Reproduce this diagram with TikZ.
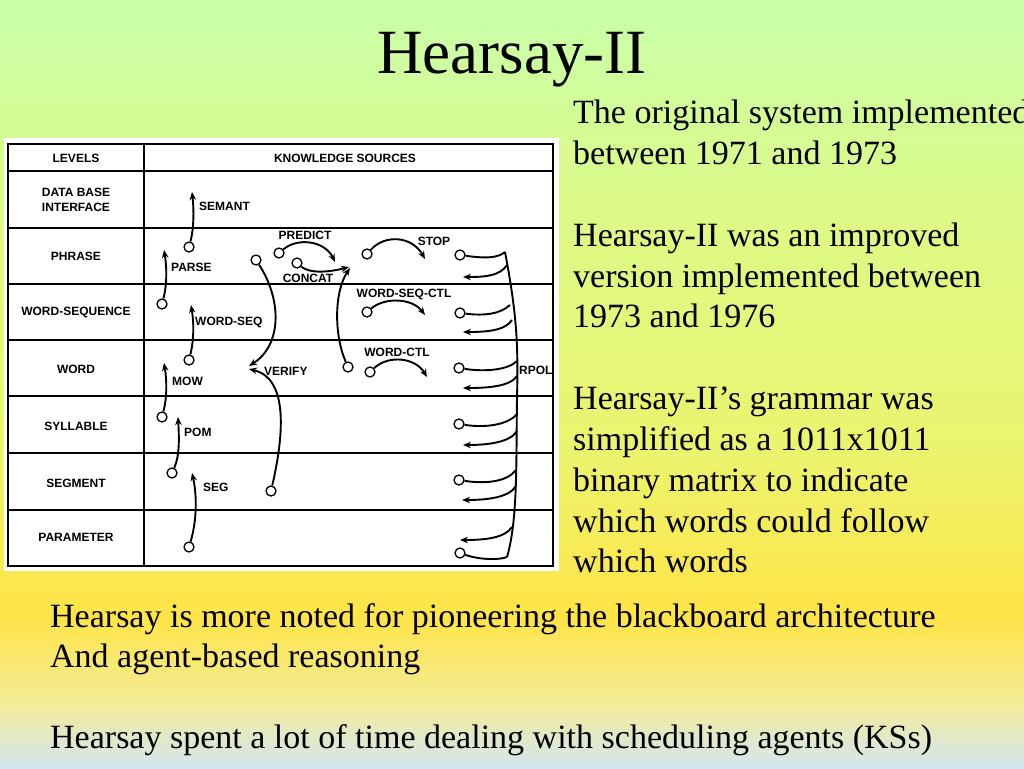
\documentclass[tikz,border=0pt]{standalone}
\usepackage{fontspec}
\setmainfont{Liberation Serif}
\newfontfamily\tabfont{Liberation Sans}
\usetikzlibrary{arrows.meta}
\definecolor{bgA}{HTML}{C8FFAA}
\definecolor{bgB}{HTML}{DCFA88}
\definecolor{bgC}{HTML}{EBF46E}
\definecolor{bgD}{HTML}{FFE446}
\definecolor{bgE}{HTML}{F2EC9A}
\definecolor{bgF}{HTML}{D2E6F2}
\newcommand\bgband[4]{%
  \foreach \yy in {#1,...,#2}{%
    \pgfmathtruncatemacro\pp{(\yy-#1)/(#2-#1)*100}%
    \fill[#4!\pp!#3] (0,\yy) rectangle (1024,\yy+1.6);}}
\tikzset{
  lvl/.style={font=\tabfont\bfseries\fontsize{12}{15}\selectfont, inner sep=0pt, align=center},
  kslab/.style={font=\tabfont\bfseries\fontsize{12}{15}\selectfont, inner sep=0pt},
  arr/.style={line width=1.9pt, -{Stealth[length=8pt,width=6.5pt]}},
  ln/.style={line width=1.9pt},
  cir/.style={circle, draw, fill=white, line width=1.3pt, minimum size=10pt, inner sep=0pt},
  grid/.style={line width=1.9pt},
  body/.style={font=\fontsize{34}{40}\selectfont, inner sep=0pt, anchor=base west},
}
\begin{document}
\begin{tikzpicture}[x=1pt,y=-1pt]
\useasboundingbox (0,0) rectangle (1024,768);
% background
\bgband{0}{200}{bgA}{bgB}
\bgband{200}{450}{bgB}{bgC}
\bgband{450}{615}{bgC}{bgD}
\bgband{615}{705}{bgD}{bgE}
\bgband{705}{768}{bgE}{bgF}
% title
\node[font=\fontsize{63}{70}\selectfont, inner sep=0pt, anchor=base] (title) at (512,74) {Hearsay-II};
% right text
\foreach \t/\yy [count=\i] in {The original system implemented/123, between 1971 and 1973/164,
  Hearsay-II was an improved/246, version implemented between/287, 1973 and 1976/327,
  Hearsay-II’s grammar was/409, simplified as a 1011x1011/450, binary matrix to indicate/491,
  which words could follow/532, which words/572}
  \node[body] (r\i) at (573,\yy) {\t};
% bottom text
\node[body] (b1) at (50,627) {Hearsay is more noted for pioneering the blackboard architecture};
\node[body] (b2) at (50,667) {And agent-based reasoning};
\node[body] (b3) at (50,748) {Hearsay spent a lot of time dealing with scheduling agents (KSs)};
% figure
\fill[white] (4,138) rectangle (559,571);
\draw[grid] (8,144) rectangle (553,566);
\draw[grid] (144,144) -- (144,566);
\foreach \yy in {171,228,284,340,396,453,510}
  \draw[grid] (8,\yy) -- (553,\yy);
\node[lvl] (lv0) at (76,158) {LEVELS};
\node[lvl] (lv1) at (76,199.5) {DATA BASE\\INTERFACE};
\node[lvl] (lv2) at (76,256) {PHRASE};
\node[lvl] (lv3) at (76,312) {WORD-SEQUENCE};
\node[lvl] (lv4) at (76,369) {WORD};
\node[lvl] (lv5) at (76,426) {SYLLABLE};
\node[lvl] (lv6) at (76,483) {SEGMENT};
\node[lvl] (lv7) at (76,537) {PARAMETER};
\node[lvl] (ks) at (345,158) {KNOWLEDGE SOURCES};
% vertical KS arrows
\node[cir] (cSem) at (189,247) {};
\coordinate (tSem) at (192,192);
\draw[arr] (cSem) .. controls (194,228) and (194,210) .. (tSem);
\node[kslab, anchor=west] (lSem) at (199,206) {SEMANT};
\node[cir] (cPar) at (162,304) {};
\coordinate (tPar) at (164,250);
\draw[arr] (cPar) .. controls (167,285) and (167,268) .. (tPar);
\node[kslab, anchor=west] (lPar) at (171,267) {PARSE};
\node[cir] (cWs) at (189,360) {};
\coordinate (tWs) at (191,305);
\draw[arr] (cWs) .. controls (194,340) and (194,323) .. (tWs);
\node[kslab, anchor=west] (lWs) at (195,322) {WORD-SEQ};
\node[cir] (cMow) at (162,417) {};
\coordinate (tMow) at (164,363);
\draw[arr] (cMow) .. controls (167,398) and (167,381) .. (tMow);
\node[kslab, anchor=west] (lMow) at (172,381) {MOW};
\node[cir] (cPom) at (172,473) {};
\coordinate (tPom) at (178,417);
\draw[arr] (cPom) .. controls (180,455) and (179,436) .. (tPom);
\node[kslab, anchor=west] (lPom) at (184,432) {POM};
\node[cir] (cSeg) at (189,547) {};
\coordinate (tSeg) at (192,473);
\draw[arr] (cSeg) .. controls (197,520) and (197,495) .. (tSeg);
\node[kslab, anchor=west] (lSeg) at (203,487) {SEG};
% VERIFY
\node[cir] (cV1) at (256,260) {};
\node[cir] (cV2) at (271,491) {};
\coordinate (tV1) at (249,366);
\coordinate (tV2) at (249,369);
\draw[arr] (cV1) .. controls (282,300) and (282,345) .. (tV1);
\draw[arr] (cV2) .. controls (285,430) and (287,378) .. (tV2);
\node[kslab, anchor=west] (lVer) at (264,371) {VERIFY};
% PREDICT / CONCAT
\node[cir] (cPre) at (279,253) {};
\coordinate (tPre) at (335,262);
\draw[arr] (cPre) .. controls (298,237) and (325,241) .. (tPre);
\node[kslab] (lPre) at (305,235) {PREDICT};
\node[cir] (cCon) at (297,263) {};
\coordinate (tCon) at (349,267);
\draw[arr] (cCon) .. controls (310,274) and (330,272) .. (tCon);
\node[cir] (cWc) at (348,367) {};
\coordinate (tWc) at (350,268);
\draw[arr] (cWc) .. controls (334,335) and (334,292) .. (tWc);
\node[kslab] (lCon) at (308,278) {CONCAT};
% STOP, WORD-SEQ-CTL, WORD-CTL
\node[cir] (cStop) at (367,254) {};
\coordinate (tStop) at (425,259);
\draw[arr] (cStop) .. controls (385,234) and (412,236) .. (tStop);
\node[kslab] (lStop) at (434,241) {STOP};
\node[cir] (cWsc) at (367,312) {};
\coordinate (tWsc) at (425,315);
\draw[arr] (cWsc) .. controls (385,297) and (412,298) .. (tWsc);
\node[kslab] (lWsc) at (404,294) {WORD-SEQ-CTL};
\node[cir] (cWct) at (370,372) {};
\coordinate (tWct) at (427,377);
\draw[arr] (cWct) .. controls (388,355) and (415,357) .. (tWct);
\node[kslab] (lWct) at (397,352) {WORD-CTL};
% RPOL spine
\coordinate (s0) at (505,252);
\coordinate (s1) at (517,400);
\coordinate (s2) at (507,557);
\draw[ln] (s0) .. controls (518,320) and (518,350) .. (s1) .. controls (516,460) and (518,520) .. (s2);
\node[kslab, anchor=west] (lRp) at (519,370) {RPOL};
% branches
\node[cir] (q1) at (460,255) {};
\coordinate (q1e) at (505,252);
\draw[ln] (q1) .. controls (482,258) and (497,259) .. (q1e);
\coordinate (a1s) at (507,265); \coordinate (a1t) at (463,277);
\draw[arr] (a1s) .. controls (500,276) and (485,277) .. (a1t);
\node[cir] (q2) at (460,313) {};
\coordinate (q2e) at (510,305);
\draw[ln] (q2) .. controls (485,316) and (500,314) .. (q2e);
\coordinate (a2s) at (512,320); \coordinate (a2t) at (463,332);
\draw[arr] (a2s) .. controls (505,331) and (485,332) .. (a2t);
\node[cir] (q3) at (459,368) {};
\coordinate (q3e) at (517,361);
\draw[ln] (q3) .. controls (485,372) and (508,370) .. (q3e);
\coordinate (a3s) at (517,376); \coordinate (a3t) at (463,388);
\draw[arr] (a3s) .. controls (510,387) and (485,388) .. (a3t);
\node[cir] (q4) at (459,424) {};
\coordinate (q4e) at (517,414);
\draw[ln] (q4) .. controls (485,428) and (508,425) .. (q4e);
\coordinate (a4s) at (517,431); \coordinate (a4t) at (463,445);
\draw[arr] (a4s) .. controls (510,443) and (485,445) .. (a4t);
\node[cir] (q5) at (459,480) {};
\coordinate (q5e) at (516,470);
\draw[ln] (q5) .. controls (485,484) and (507,482) .. (q5e);
\coordinate (a5s) at (516,486); \coordinate (a5t) at (462,500);
\draw[arr] (a5s) .. controls (509,498) and (485,500) .. (a5t);
\coordinate (a6s) at (512,527); \coordinate (a6t) at (460,540);
\draw[arr] (a6s) .. controls (505,538) and (485,540) .. (a6t);
\node[cir] (q6) at (460,553) {};
\draw[ln] (q6) .. controls (480,560) and (500,560) .. (s2);
\end{tikzpicture}
\end{document}
